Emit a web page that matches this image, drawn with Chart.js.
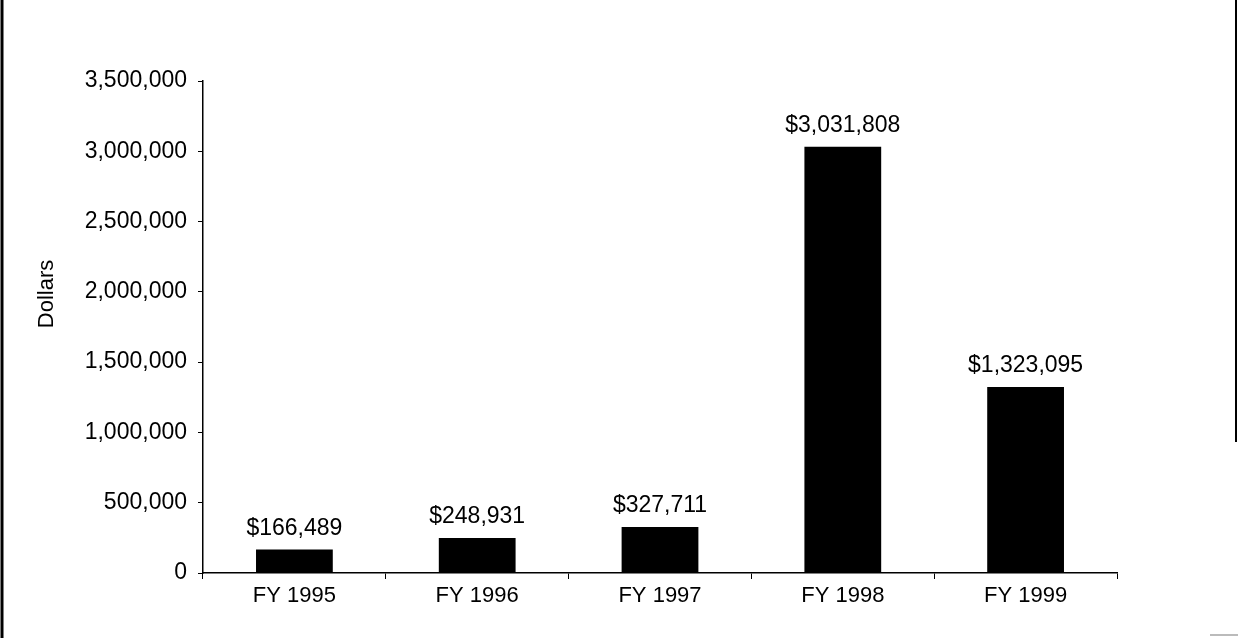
<!DOCTYPE html>
<html><head><meta charset="utf-8">
<script src="https://cdn.jsdelivr.net/npm/chart.js@4/dist/chart.umd.min.js"></script>
<style>html,body{margin:0;padding:0;background:#fff}#wrap{width:1238px;height:638px;position:relative}</style>
</head><body><div id="wrap"><canvas id="c" width="1238" height="638"></canvas></div>
<script>
const categories = ["FY 1995", "FY 1996", "FY 1997", "FY 1998", "FY 1999"];
const values = [166489, 248931, 327711, 3031808, 1323095];
const yTicks = [0, 500000, 1000000, 1500000, 2000000, 2500000, 3000000, 3500000];
const axisTitle = "Dollars";

const FONT = "'Liberation Sans', Arial, sans-serif";
const fmt = v => v.toLocaleString('en-US');

const valueLabels = {
  id: 'valueLabels',
  afterDatasetsDraw(chart) {
    const ctx = chart.ctx;
    const meta = chart.getDatasetMeta(0);
    ctx.save();
    ctx.fillStyle = '#000';
    ctx.font = '23px ' + FONT;
    ctx.textAlign = 'center';
    ctx.textBaseline = 'alphabetic';
    meta.data.forEach((bar, i) => {
      ctx.fillText('$' + fmt(values[i]), bar.x, bar.y - 15);
    });
    ctx.restore();
  }
};
const yTitle = {
  id: 'yTitle',
  afterDraw(chart) {
    const ctx = chart.ctx;
    ctx.save();
    ctx.fillStyle = '#000';
    ctx.font = '22px ' + FONT;
    ctx.textAlign = 'center';
    ctx.textBaseline = 'middle';
    ctx.translate(47, 294);
    ctx.rotate(-Math.PI / 2);
    ctx.fillText(axisTitle, 0, 0);
    ctx.restore();
  }
};
const frame = {
  id: 'frame',
  afterDraw(chart) {
    const ctx = chart.ctx;
    ctx.save();
    ctx.strokeStyle = '#000';
    ctx.lineWidth = 3;
    ctx.beginPath(); ctx.moveTo(2, 0); ctx.lineTo(2, 638); ctx.stroke();
    ctx.lineWidth = 2;
    ctx.beginPath(); ctx.moveTo(1236, 0); ctx.lineTo(1236, 442); ctx.stroke();
    ctx.strokeStyle = '#bbb';
    ctx.beginPath(); ctx.moveTo(1210, 635); ctx.lineTo(1238, 635); ctx.stroke();
    ctx.restore();
  }
};

new Chart(document.getElementById('c'), {
  type: 'bar',
  data: { labels: categories, datasets: [{ data: values, backgroundColor: '#000', borderWidth: 0, categoryPercentage: 1, barPercentage: 0.42 }] },
  options: {
    responsive: false, animation: false,
    layout: { padding: { top: 81, right: 121, left: 0, bottom: 0 } },
    plugins: { legend: { display: false }, tooltip: { enabled: false } },
    scales: {
      x: {
        grid: { display: true, drawOnChartArea: false, color: '#000', tickLength: 6, offset: true },
        border: { color: '#000', width: 1.5 },
        ticks: { color: '#000', font: { family: FONT, size: 22 }, padding: 4, maxRotation: 0 },
        afterFit(s) { s.height = 65; }
      },
      y: {
        min: 0, max: 3500000,
        afterBuildTicks(s) { s.ticks = yTicks.map(v => ({ value: v })); },
        grid: { display: true, drawOnChartArea: false, color: '#000', tickLength: 5 },
        border: { color: '#000', width: 1.5 },
        ticks: { color: '#000', font: { family: FONT, size: 23 }, padding: 11, callback: v => fmt(v) },
        afterFit(s) { s.width = 203; }
      }
    }
  },
  plugins: [valueLabels, yTitle, frame]
});
</script></body></html>
